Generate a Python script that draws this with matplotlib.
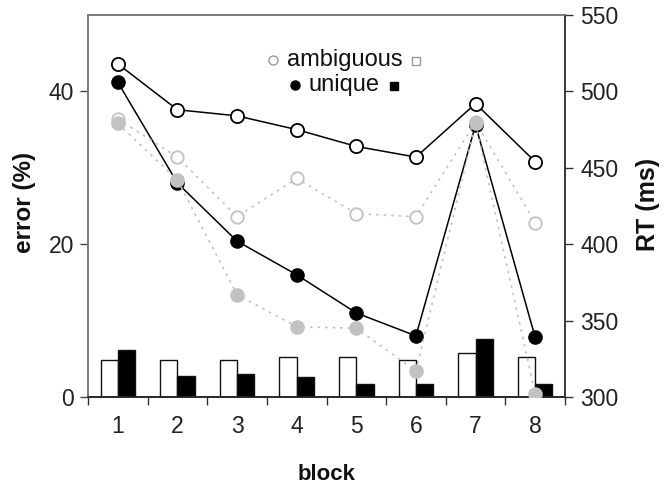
import numpy as np
import matplotlib
matplotlib.use("Agg")
import matplotlib.pyplot as plt

plt.rcParams['font.family'] = ['Liberation Sans', 'DejaVu Sans']

# data
blocks = [1, 2, 3, 4, 5, 6, 7, 8]
block_labels = ['1', '2', '3', '4', '5', '6', '7', '8']

# error bars (%), left axis
err_ambiguous = [4.8, 4.8, 4.8, 5.2, 5.2, 4.8, 5.7, 5.3]
err_unique = [6.1, 2.8, 3.0, 2.6, 1.7, 1.7, 7.6, 1.7]

# RT (ms), right axis
rt_ambiguous = [518, 488, 484, 475, 464, 457, 492, 454]
rt_unique = [506, 440, 402, 380, 355, 340, 478, 339]
rt_ambiguous_grey = [482, 457, 418, 443, 420, 418, 480, 414]
rt_unique_grey = [479, 442, 367, 346, 345, 317, 479, 302]

grey = '#c2c2c2'
x = np.array(blocks)
bw = 0.29

fig = plt.figure(figsize=(6.72, 4.87), dpi=100)
ax = fig.add_axes([88/672, 90/487, 477/672, 382/487])
ax2 = ax.twinx()

# bars
ax.bar(x - bw/2, err_ambiguous, bw, color='white', edgecolor='#111', linewidth=1.0, zorder=2)
ax.bar(x + bw/2, err_unique, bw, color='black', edgecolor='#111', linewidth=1.0, zorder=2)
ax.set_ylim(0, 50)
ax.set_xlim(0.5, 8.5)
ax.set_yticks([0, 20, 40])

# lines
ax2.plot(x, rt_ambiguous, '-', color='black', lw=1.1, marker='o', ms=9.5,
         mfc='white', mec='black', mew=1.3, zorder=3)
ax2.plot(x, rt_unique, '-', color='black', lw=1.1, marker='o', ms=9.5,
         mfc='black', mec='black', zorder=3)
ax2.plot(x, rt_ambiguous_grey, color=grey, lw=1.2, ls=(0, (1.5, 3)), marker='o', ms=9,
         mfc='white', mec=grey, mew=1.3, zorder=4)
ax2.plot(x, rt_unique_grey, color=grey, lw=1.2, ls=(0, (1.5, 3)), marker='o', ms=9.5,
         mfc=grey, mec=grey, zorder=4)
ax2.set_ylim(300, 550)
ax2.set_yticks([300, 350, 400, 450, 500, 550])

# x ticks: marks at block boundaries, labels at block centres
ax.set_xticks(np.arange(0.5, 9.0, 1.0))
ax.set_xticklabels([])
ax.set_xticks(x, minor=True)
ax.set_xticklabels(block_labels, minor=True)
ax.tick_params(axis='x', which='minor', length=0, pad=13, labelsize=16.5, labelcolor='#222')
ax.tick_params(axis='x', which='major', length=6, width=1, color='#333', direction='out')
ax.tick_params(axis='y', length=6, width=1, color='#444', labelsize=16.5, labelcolor='#222', pad=4)
ax2.tick_params(axis='y', length=6, width=1, color='#333', labelsize=16.5, labelcolor='#222', pad=5)

for a in (ax, ax2):
    a.spines['left'].set_color('#777')
    a.spines['top'].set_color('#777')
    a.spines['right'].set_color('#333')
    a.spines['bottom'].set_color('#222')
    for s in a.spines.values():
        s.set_linewidth(1.1)

# legend
tr = ax.transAxes
ax.plot([0.387], [0.882], 'o', ms=6.5, mfc='white', mec='#999', mew=1.0, transform=tr, clip_on=False)
ax.text(0.417, 0.882, 'ambiguous', fontsize=17, color='#111', ha='left', va='center', transform=tr)
ax.plot([0.688], [0.879], 's', ms=6, mfc='white', mec='#999', mew=1.0, transform=tr, clip_on=False)
ax.plot([0.434], [0.817], 'o', ms=6.5, mfc='black', mec='black', transform=tr, clip_on=False)
ax.text(0.463, 0.817, 'unique', fontsize=17, color='#111', ha='left', va='center', transform=tr)
ax.plot([0.641], [0.814], 's', ms=6, mfc='black', mec='black', transform=tr, clip_on=False)

# axis titles
fig.text(24/672, 1 - 202/487, 'error (%)', rotation=90, ha='center', va='center',
         fontsize=17.5, fontweight='bold', color='#111')
fig.text(648/672, 1 - 204/487, 'RT (ms)', rotation=90, ha='center', va='center',
         fontsize=18, fontweight='bold', color='#111')
fig.text(327/672, 1 - 475/487, 'block', ha='center', va='center',
         fontsize=16, fontweight='bold', color='#111')

fig.savefig('out.png', dpi=100)
